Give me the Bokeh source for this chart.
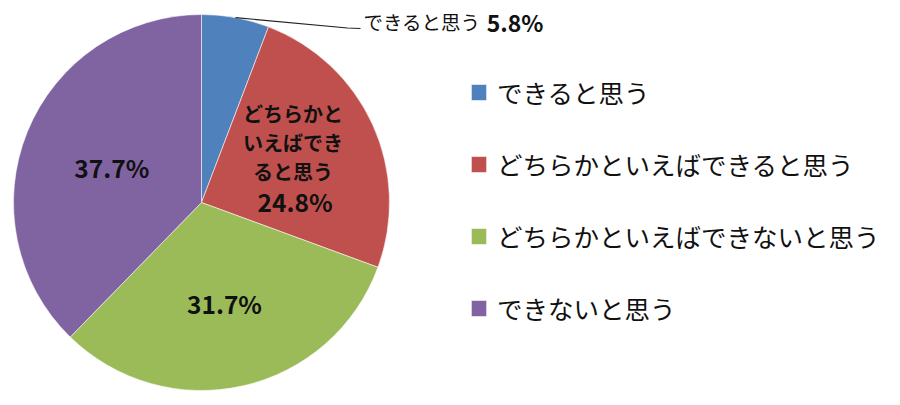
import math
from bokeh.plotting import figure
from bokeh.models import Range1d, Legend, LegendItem, ColumnDataSource
from bokeh.core.properties import value
from bokeh.embed import file_html
from bokeh.resources import INLINE

# ---- data ----
categories = ["できると思う", "どちらかといえばできると思う",
              "どちらかといえばできないと思う", "できないと思う"]
percent = [5.8, 24.8, 31.7, 37.7]
colors = ["#4F81BD", "#C0504D", "#9BBB59", "#8064A2"]
red_label_lines = ["どちらかと", "いえばでき", "ると思う"]

# ---- layout ----
W, H = 892, 397
CX, CY = 201, 202          # pie centre inside the figure (px from top-left)
R = 188
JP = "Noto Sans CJK JP"

p = figure(width=W, height=H, output_backend="svg", toolbar_location=None,
           x_range=Range1d(-CX, W - CX), y_range=Range1d(-(H - CY), CY),
           min_border=0, outline_line_color=None)
p.axis.visible = False
p.grid.visible = False
p.background_fill_color = "white"
p.border_fill_color = "white"

total = sum(percent)
starts, ends, mids = [], [], []
cum = 0.0
for v in percent:
    a0 = math.pi / 2 - 2 * math.pi * cum / total
    cum += v
    a1 = math.pi / 2 - 2 * math.pi * cum / total
    starts.append(a0)
    ends.append(a1)
    mids.append((a0 + a1) / 2)

src = ColumnDataSource(dict(start=starts, end=ends, color=colors, cat=categories))
wr = p.wedge(x=0, y=0, radius=R, start_angle="start", end_angle="end",
             direction="clock", fill_color="color", line_color="white",
             line_width=0.8, line_alpha=0.7, source=src)

# ---- labels inside slices ----
def polar(ang, r):
    return r * math.cos(ang), r * math.sin(ang)

# purple
px, py = polar(mids[3], 0.515 * R)
p.text(x=[px], y=[py - 1], text=[f"{percent[3]:.1f}%"], text_align="center",
       text_baseline="middle", text_font=value(JP), text_font_style="bold",
       text_font_size="24.5px", text_color="#111111")
# green
gx, gy = polar(mids[2], 0.553 * R)
p.text(x=[gx], y=[gy], text=[f"{percent[2]:.1f}%"], text_align="center",
       text_baseline="middle", text_font=value(JP), text_font_style="bold",
       text_font_size="24.5px", text_color="#111111")
# red (multi-line)
rx, ry = polar(mids[1], 0.535 * R)
offs = [47, 18, -11]
dxs = [0, 0, 0]
p.text(x=[rx + d for d in dxs], y=[ry + o for o in offs], text=red_label_lines,
       text_align="center", text_baseline="middle", text_font=value(JP),
       text_font_style="bold", text_font_size="20px", text_color="#111111")
p.text(x=[rx + 2], y=[ry - 41], text=[f"{percent[1]:.1f}%"], text_align="center",
       text_baseline="middle", text_font=value(JP), text_font_style="bold",
       text_font_size="24.5px", text_color="#111111")

# blue: callout outside with leader line
bx, by = polar(mids[0], R)
lx, ly = 363 - CX, CY - 21
p.line(x=[bx, lx - 16, lx - 3], y=[by, ly - 6.5, ly - 7], line_color="#222222",
       line_width=1.2)
p.text(x=[lx], y=[ly], text=[categories[0]], text_align="left",
       text_baseline="middle", text_font=value(JP), text_font_size="19.5px",
       text_color="#111111")
p.text(x=[543 - CX], y=[ly], text=[f"{percent[0]:.1f}%"], text_align="right",
       text_baseline="middle", text_font=value(JP), text_font_style="bold",
       text_font_size="23px", text_color="#111111")

# ---- legend ----
items = [LegendItem(label=c, renderers=[wr], index=i) for i, c in enumerate(categories)]
legend = Legend(items=items, location=(469, 71), orientation="vertical",
                glyph_width=19, glyph_height=20, label_standoff=9,
                label_text_font=JP, label_text_font_size="25.5px",
                label_text_color="#111111", label_height=30, spacing=35,
                padding=0, margin=0, border_line_color=None,
                background_fill_alpha=0)
p.add_layout(legend, "center")

open("out.html", "w").write(file_html(p, INLINE))
